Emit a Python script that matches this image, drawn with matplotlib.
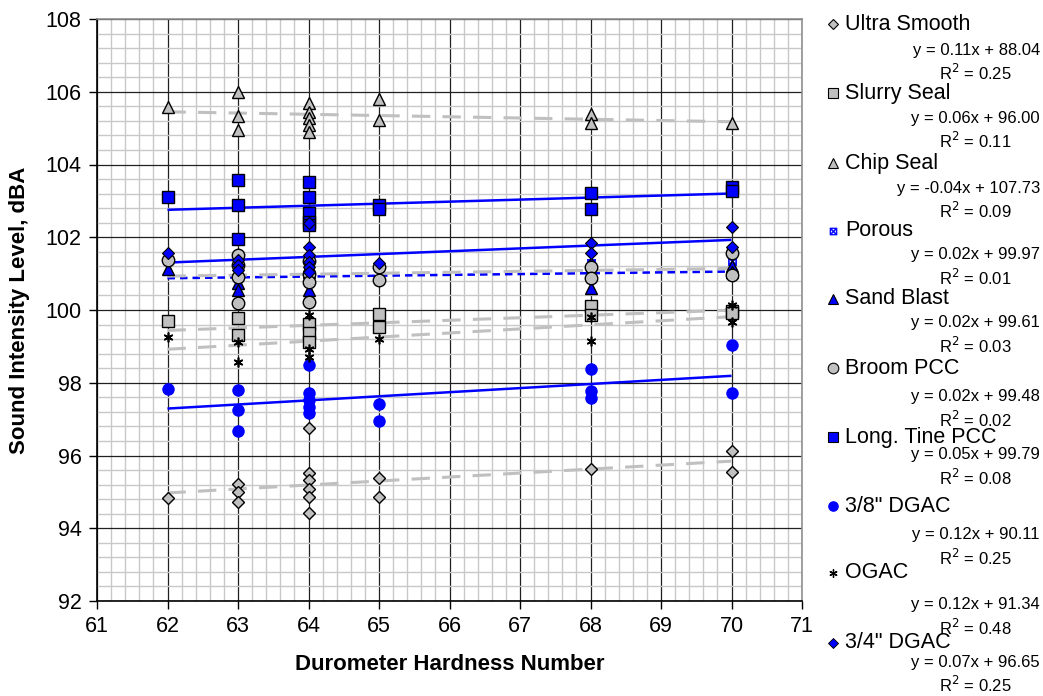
import numpy as np
import matplotlib as mpl
mpl.use('Agg')
from matplotlib import pyplot as plt
from matplotlib.lines import Line2D
from matplotlib.ticker import MultipleLocator

plt.rcParams['font.family'] = ['Liberation Sans', 'DejaVu Sans']

# durometer hardness (x) and sound intensity level (y)
ultra_x = [62, 63, 63, 63, 64, 64, 64, 64, 64, 64, 65, 65, 68, 70, 70]
ultra_y = [94.84, 95.22, 95.01, 94.72, 96.75, 95.52, 95.32, 95.08, 94.85, 94.42,
           95.38, 94.87, 95.62, 96.11, 95.55]

slurry_x = [62, 63, 63, 64, 64, 64, 65, 65, 68, 68, 70, 70]
slurry_y = [99.70, 99.77, 99.31, 99.62, 99.38, 99.12, 99.90, 99.52, 100.12, 99.85,
            99.98, 99.92]

chip_x = [62, 63, 63, 63, 64, 64, 64, 64, 64, 65, 65, 68, 68, 70]
chip_y = [105.58, 106.00, 105.34, 104.94, 105.68, 105.45, 105.28, 105.08, 104.90,
          105.80, 105.22, 105.40, 105.15, 105.13]

porous_x = [63, 64, 68, 70]
porous_y = [101.25, 101.20, 101.30, 101.35]

sand_x = [62, 63, 63, 63, 64, 64, 64, 68, 68, 70, 70]
sand_y = [101.14, 101.10, 100.75, 100.55, 101.20, 101.04, 100.55, 101.28, 100.60,
          101.20, 101.05]

broom_x = [62, 63, 63, 63, 63, 64, 64, 64, 64, 65, 65, 68, 68, 70, 70]
broom_y = [101.38, 101.52, 101.25, 100.92, 100.18, 101.35, 101.00, 100.78, 100.22,
           101.18, 100.82, 101.19, 100.87, 101.56, 100.96]

tine_x = [62, 63, 63, 63, 64, 64, 64, 64, 64, 65, 65, 68, 68, 70, 70]
tine_y = [103.11, 103.57, 102.88, 101.95, 103.52, 103.12, 102.68, 102.42, 102.35,
          102.90, 102.78, 103.22, 102.79, 103.39, 103.27]

dgac38_x = [62, 63, 63, 63, 64, 64, 64, 64, 64, 65, 65, 68, 68, 68, 70, 70]
dgac38_y = [97.82, 97.80, 97.25, 96.68, 98.49, 97.71, 97.53, 97.34, 97.16, 97.42,
            96.95, 98.38, 97.76, 97.57, 99.04, 97.71]

ogac_x = [62, 63, 63, 64, 64, 64, 65, 68, 68, 70, 70]
ogac_y = [99.26, 99.13, 98.58, 99.86, 98.92, 98.72, 99.21, 99.82, 99.16, 100.15, 99.68]

dgac34_x = [62, 63, 63, 63, 64, 64, 64, 64, 64, 64, 65, 68, 68, 70, 70]
dgac34_y = [101.56, 101.38, 101.24, 101.10, 102.38, 101.72, 101.51, 101.32, 101.18,
            101.05, 101.30, 101.83, 101.56, 102.29, 101.72]

names = ['Ultra Smooth', 'Slurry Seal', 'Chip Seal', 'Porous', 'Sand Blast',
         'Broom PCC', 'Long. Tine PCC', '3/8" DGAC', 'OGAC', '3/4" DGAC']
# trendline equations as printed in the legend
eq_slope = [0.11, 0.06, -0.04, 0.02, 0.02, 0.02, 0.05, 0.12, 0.12, 0.07]
eq_icept = [88.04, 96.00, 107.73, 99.97, 99.61, 99.48, 99.79, 90.11, 91.34, 96.65]
eq_r2 = [0.25, 0.11, 0.09, 0.01, 0.03, 0.02, 0.08, 0.25, 0.48, 0.25]

GRAY = '#C0C0C0'
BLUE = '#0000FF'
W, H = 1043, 696

data = [(ultra_x, ultra_y), (slurry_x, slurry_y), (chip_x, chip_y),
        (porous_x, porous_y), (sand_x, sand_y), (broom_x, broom_y),
        (tine_x, tine_y), (dgac38_x, dgac38_y), (ogac_x, ogac_y),
        (dgac34_x, dgac34_y)]

# marker styles: (marker, size, face, edge, edgewidth)
mstyle = [('D', 6.0, GRAY, 'black', 1.0),
          ('s', 8.5, GRAY, 'black', 1.0),
          ('^', 9.0, GRAY, 'black', 1.0),
          (r'$\boxtimes$', 6.0, BLUE, BLUE, 0.5),
          ('^', 9.0, BLUE, 'black', 1.0),
          ('o', 9.0, GRAY, 'black', 1.0),
          ('s', 8.5, BLUE, 'black', 1.0),
          ('o', 9.0, BLUE, BLUE, 0.0),
          ((6, 2, 0), 7.0, 'black', 'black', 1.2),
          ('D', 6.0, BLUE, 'black', 0.8)]

# trendline styles: (color, width, dashes) ; None = no trendline drawn
tstyle = [(GRAY, 2.2, (6.0, 4.0)),
          (GRAY, 2.2, (6.0, 4.0)),
          (GRAY, 2.2, (6.0, 4.0)),
          None,
          (BLUE, 1.8, (3.0, 2.0)),
          (GRAY, 2.2, (6.0, 4.0)),
          (BLUE, 1.8, None),
          (BLUE, 1.8, None),
          (GRAY, 2.2, (6.0, 4.0)),
          (BLUE, 1.8, None)]

fig = plt.figure(figsize=(W / 100, H / 100), dpi=100)
ax = fig.add_axes([97 / W, 1 - 601 / H, 705 / W, 582 / H])

ax.set_xlim(61, 71)
ax.set_ylim(92, 108)
ax.xaxis.set_major_locator(MultipleLocator(1))
ax.xaxis.set_minor_locator(MultipleLocator(0.2))
ax.yaxis.set_major_locator(MultipleLocator(2))
ax.yaxis.set_minor_locator(MultipleLocator(0.4))
ax.set_axisbelow(True)
ax.grid(which='minor', color='#C8C8C8', lw=1.0)
ax.grid(which='major', color='#202020', lw=0.9)
ax.tick_params(which='minor', length=0)
ax.tick_params(which='major', direction='out', length=6, width=1,
               labelsize=15.5, colors='black')
ax.tick_params(axis='y', pad=5)
ax.tick_params(axis='x', pad=5)
for s in ['left', 'bottom']:
    ax.spines[s].set_color('black')
    ax.spines[s].set_linewidth(1.2)
for s in ['top', 'right']:
    ax.spines[s].set_color('#909090')
    ax.spines[s].set_linewidth(1.2)

# trendlines (least squares fit of each series)
for (x, y), ts in zip(data, tstyle):
    if ts is None:
        continue
    m, b = np.polyfit(x, y, 1)
    xx = np.array([min(x), max(x)])
    line, = ax.plot(xx, m * xx + b, color=ts[0], lw=ts[1], zorder=2,
                    solid_capstyle='butt')
    if ts[2] is not None:
        line.set_dashes(ts[2])

# points
for (x, y), ms in zip(data, mstyle):
    ax.plot(x, y, ls='none', marker=ms[0], ms=ms[1], mfc=ms[2], mec=ms[3],
            mew=ms[4], zorder=3, clip_on=False)

fig.text(20 / W, 1 - 310 / H, 'Sound Intensity Level, dBA', rotation=90,
         ha='center', va='center', fontsize=16, fontweight='bold')
fig.text(449.5 / W, 1 - 665 / H, 'Durometer Hardness Number',
         ha='center', va='center', fontsize=16, fontweight='bold')

# legend with trendline equations
label_y = [24, 93, 163, 231, 299, 368, 437, 506, 573, 643]
eq_y = [50, 118, 188, 255, 323, 397, 455, 535, 605, 662]
for i, name in enumerate(names):
    ms = mstyle[i]
    fig.add_artist(Line2D([833 / W], [1 - label_y[i] / H], ls='none',
                          marker=ms[0], ms=ms[1] * 0.85, mfc=ms[2], mec=ms[3],
                          mew=ms[4] * 0.8))
    fig.text(845 / W, 1 - label_y[i] / H, name, ha='left', va='center',
             fontsize=15.5)
    eq = 'y = %.2fx + %.2f' % (eq_slope[i], eq_icept[i])
    fig.text(1040 / W, 1 - eq_y[i] / H, eq, ha='right', va='center',
             fontsize=12)
    fig.text(975 / W, 1 - (eq_y[i] + 23) / H, r'R$^2$ = %.2f' % eq_r2[i],
             ha='center', va='center', fontsize=12)

fig.savefig('out.png', dpi=100)
